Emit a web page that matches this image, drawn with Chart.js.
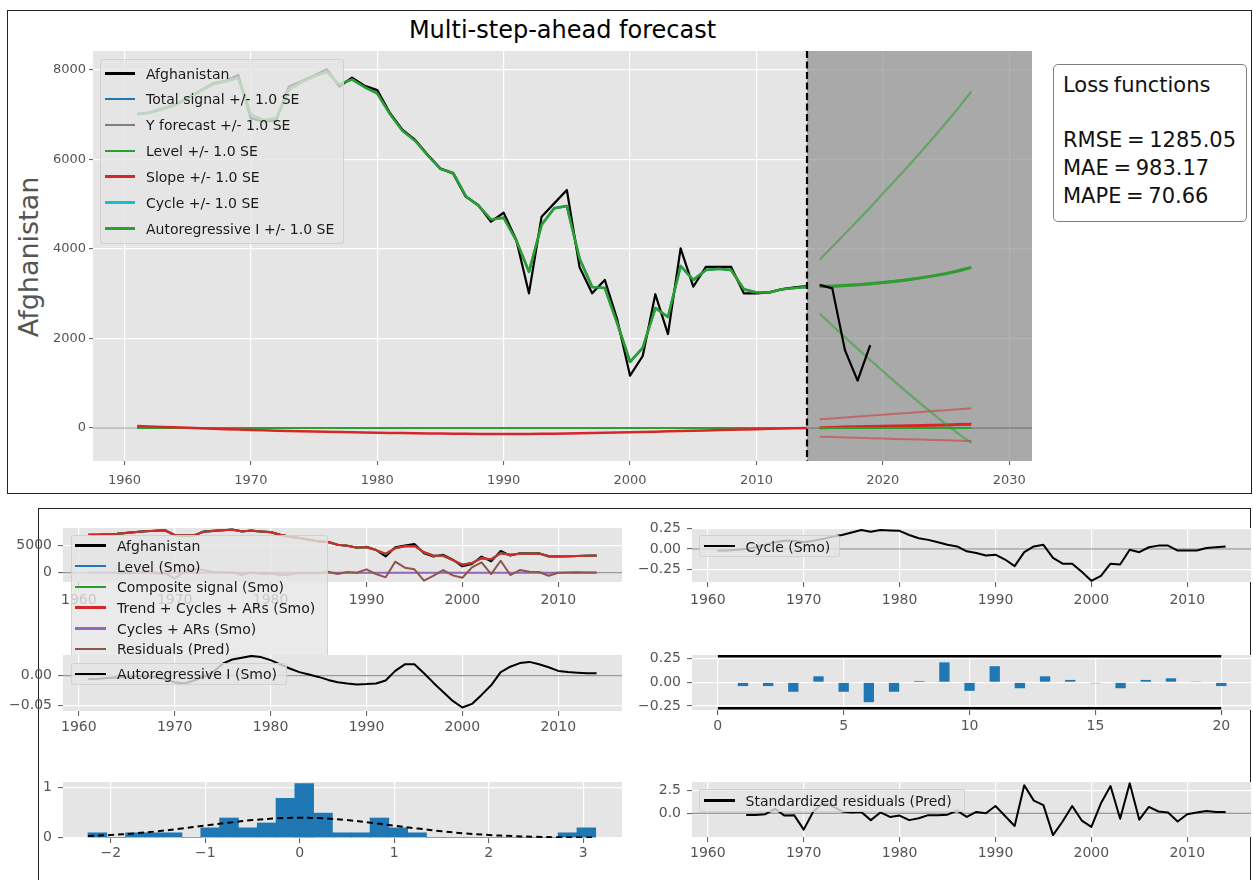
<!DOCTYPE html>
<html>
<head>
<meta charset="utf-8">
<title>Multi-step-ahead forecast</title>
<script src="https://cdn.jsdelivr.net/npm/chart.js@4.4.1/dist/chart.umd.min.js"></script>
<style>
  html, body { margin:0; padding:0; background:#fff; }
  body { position:relative; width:1253px; height:880px; overflow:hidden; font-family:"DejaVu Sans", sans-serif; }
  canvas { position:absolute; }
  .frame { position:absolute; border:1.5px solid #222; box-sizing:border-box; }
  .txt { position:absolute; white-space:nowrap; line-height:1; }
  .legend { position:absolute; box-sizing:border-box; background:rgba(229,229,229,0.8); border:1px solid rgba(204,204,204,0.8); border-radius:3px; overflow:hidden; }
  .legend .sw { position:absolute; height:2.5px; }
  .legend .lb { position:absolute; white-space:nowrap; line-height:1; font-size:14px; color:#1a1a1a; }
  #loss { position:absolute; left:1053px; top:64px; width:194px; height:158px; box-sizing:border-box; border:1px solid #808080; border-radius:5px; background:#fff; z-index:3; }
  #loss .txt { font-size:21px; color:#111; word-spacing:-2px; }
</style>
</head>
<body>
<div class="frame" style="left:7px;top:10px;width:1245px;height:484px;"></div>
<div class="frame" style="left:38px;top:508px;width:1213px;height:390px;"></div>
<div class="txt" style="left:0;width:1125px;text-align:center;top:18px;font-size:24px;color:#000;">Multi-step-ahead forecast</div>
<div class="txt" style="left:28px;top:257px;font-size:27px;color:#555;transform:translate(-50%,-50%) rotate(-90deg);">Afghanistan</div>
<div id="loss"></div>
<script>
// ---------------- series ----------------
const years = [1961,1962,1963,1964,1965,1966,1967,1968,1969,1970,1971,1972,1973,1974,1975,1976,1977,1978,1979,1980,
  1981,1982,1983,1984,1985,1986,1987,1988,1989,1990,1991,1992,1993,1994,1995,1996,1997,1998,1999,2000,
  2001,2002,2003,2004,2005,2006,2007,2008,2009,2010,2011,2012,2013,2014];
const afghanistan = [7017,7045,7130,7220,7380,7540,7700,7760,7890,6920,6850,6870,7630,7750,7880,8020,7630,7830,7650,7550,
  7040,6660,6440,6100,5800,5690,5170,4980,4610,4810,4200,3010,4720,5020,5320,3600,3010,3310,2410,1170,
  1610,2990,2100,4015,3160,3600,3600,3600,3010,3010,3030,3100,3145,3170];
const testYears = [2015,2016,2017,2018,2019];
const afghanistanTest = [3200,3120,1740,1060,1855];

// smoothed level / total signal
const fittedSmo = [7010,7050,7140,7220,7370,7530,7680,7750,7820,7000,6880,6920,7560,7730,7860,7960,7680,7790,7620,7480,
  7020,6640,6420,6090,5790,5700,5180,4970,4660,4700,4190,3490,4540,4910,4960,3790,3150,3130,2330,1480,
  1790,2680,2480,3620,3310,3530,3560,3530,3100,3030,3030,3100,3130,3150];
const slopeSmo = [45,35,25,15,5,-5,-15,-25,-35,-45,-52,-60,-67,-74,-80,-86,-91,-96,-101,-105,
  -109,-113,-117,-120,-123,-126,-129,-131,-133,-135,-134,-132,-130,-127,-123,-119,-114,-108,-102,-95,
  -88,-81,-74,-67,-60,-53,-46,-39,-32,-25,-18,-12,-6,0];
const cycleSmo = [-0.02,-0.02,-0.01,0.00,0.02,0.05,0.08,0.10,0.10,0.08,0.10,0.12,0.15,0.17,0.20,0.23,0.21,0.23,0.225,0.22,
  0.17,0.13,0.11,0.08,0.05,0.03,-0.03,-0.05,-0.08,-0.07,-0.13,-0.21,-0.04,0.03,0.05,-0.11,-0.18,-0.18,-0.28,-0.39,
  -0.33,-0.18,-0.19,-0.01,-0.04,0.02,0.04,0.04,-0.02,-0.02,-0.02,0.01,0.02,0.03];
const arSmo = [-0.0055,-0.005,-0.004,-0.003,-0.002,-0.001,0.000,-0.002,-0.006,-0.011,-0.013,-0.008,-0.002,0.006,0.020,0.027,0.030,0.033,0.031,0.026,
  0.019,0.012,0.006,0.002,-0.002,-0.007,-0.011,-0.013,-0.0145,-0.014,-0.013,-0.008,0.008,0.019,0.019,0.004,-0.012,-0.027,-0.042,-0.053,
  -0.047,-0.032,-0.016,0.006,0.015,0.021,0.023,0.019,0.014,0.008,0.006,0.005,0.004,0.004];
const cyclesArSmo = cycleSmo.map((c, i) => c + arSmo[i]);

// multi-step-ahead forecast
const splitYear = 2014;
const fcstYears = [2015,2016,2017,2018,2019,2020,2021,2022,2023,2024,2025,2026,2027];
const levelFcst  = [3160,3170,3185,3200,3225,3250,3280,3315,3355,3400,3450,3515,3590];
const levelUpper = [3760,4050,4340,4630,4930,5240,5540,5850,6170,6490,6820,7160,7520];
const levelLower = [2560,2290,2030,1770,1520,1270,1020,780,540,310,80,-130,-330];
const slopeFcst  = [7,13,20,26,32,39,45,51,58,64,70,77,83];
const slopeUpper = [195,215,236,256,277,297,318,338,358,379,399,420,440];
const slopeLower = [-195,-203,-211,-219,-227,-235,-243,-250,-258,-266,-274,-282,-290];
const cycleFcst  = [0.03,0.03,0.02,0.02,0.02,0.01,0.01,0.01,0.0,0.0,0.0,0.0,0.0];
const arFcst     = [0.004,0.003,0.003,0.002,0.002,0.001,0.001,0.001,0.0,0.0,0.0,0.0,0.0];

const lossMetrics = [['RMSE', '1285.05'], ['MAE', '983.17'], ['MAPE', '70.66']];

// residual diagnostics
const residYears = [1964,1965,1966,1967,1968,1969,1970,1971,1972,1973,1974,1975,1976,1977,1978,1979,1980,
  1981,1982,1983,1984,1985,1986,1987,1988,1989,1990,1991,1992,1993,1994,1995,1996,1997,1998,1999,2000,
  2001,2002,2003,2004,2005,2006,2007,2008,2009,2010,2011,2012,2013,2014];
const residualsPred = [-100,-100,-60,300,-150,-120,-1050,120,650,480,120,60,90,-450,60,-240,-150,
  -450,-330,-120,-120,-90,180,-250,120,0,620,-250,-860,2040,925,620,-1480,-555,490,-490,-925,
  990,1910,-250,2220,-430,490,185,120,-555,0,60,100,60,60];
const stdResiduals = [-0.18,-0.18,-0.1,0.5,-0.25,-0.2,-1.8,0.2,1.1,0.8,0.2,0.1,0.15,-0.75,0.1,-0.4,-0.25,
  -0.75,-0.55,-0.2,-0.2,-0.15,0.3,-0.4,0.15,0.0,0.8,-0.3,-1.4,3.1,1.4,0.9,-2.4,-0.9,0.8,-0.8,-1.5,
  1.1,3.0,-0.6,3.3,-0.7,0.7,0.2,0.1,-0.9,-0.1,0.1,0.25,0.15,0.15];
const acfLags = [1,2,3,4,5,6,7,8,9,10,11,12,13,14,15,16,17,18,19,20];
const acfValues = [-0.04,-0.04,-0.10,0.063,-0.10,-0.21,-0.10,0.014,0.21,-0.09,0.17,-0.063,0.063,0.025,-0.01,-0.063,0.025,0.042,0.004,-0.04];
const acfBandLags = [0, 20];
const acfBand = 0.274;
const histBinStart = -2.241, histBinWidth = 0.199;
const histDensity = [0.098,0,0.098,0.098,0.098,0,0.197,0.394,0.197,0.295,0.788,1.083,0.492,0.098,0.098,0.394,0.197,0.098,0,0,0,0,0,0,0,0.098,0.197];
const histCenters = histDensity.map((_, i) => histBinStart + histBinWidth * (i + 0.5));
const normX   = [-2.24,-2.0,-1.75,-1.5,-1.25,-1.0,-0.75,-0.5,-0.25,0,0.25,0.5,0.75,1.0,1.25,1.5,1.75,2.0,2.25,2.5,2.75,3.0,3.13];
const normPdf = [0.032,0.054,0.086,0.13,0.183,0.242,0.301,0.352,0.387,0.399,0.387,0.352,0.301,0.242,0.183,0.13,0.086,0.054,0.032,0.018,0.009,0.0044,0.003];

// ---------------- ticks ----------------
const topXTicks = [1960,1970,1980,1990,2000,2010,2020,2030];
const topXLabels = ['1960','1970','1980','1990','2000','2010','2020','2030'];
const topYTicks = [0,2000,4000,6000,8000];
const topYLabels = ['0','2000','4000','6000','8000'];
const yearTicks = [1960,1970,1980,1990,2000,2010];
const yearLabels = ['1960','1970','1980','1990','2000','2010'];
const compYTicks = [0,5000];
const compYLabels = ['0','5000'];
const cycleYTicks = [-0.25,0,0.25];
const cycleYLabels = ['\u22120.25','0.00','0.25'];
const arYTicks = [-0.05,0];
const arYLabels = ['\u22120.05','0.00'];
const acfXTicks = [0,5,10,15,20];
const acfXLabels = ['0','5','10','15','20'];
const acfYTicks = [-0.25,0,0.25];
const acfYLabels = ['\u22120.25','0.00','0.25'];
const histXTicks = [-2,-1,0,1,2,3];
const histXLabels = ['\u22122','\u22121','0','1','2','3'];
const histYTicks = [0,1];
const histYLabels = ['0','1'];
const stdYTicks = [0,2.5];
const stdYLabels = ['0.0','2.5'];

// ---------------- helpers ----------------
Chart.defaults.font.family = 'DejaVu Sans';
const C = { black:'#000000', blue:'#1f77b4', gray:'#7f7f7f', green:'#2ca02c', red:'#d62728', cyan:'#17becf', purple:'#9467bd', brown:'#8c564b' };

const pts = (xs, ys) => xs.map((x, i) => ({ x, y: ys[i] }));
function line(label, xs, ys, color, width, extra) {
  return Object.assign({ type:'line', label, data: pts(xs, ys), borderColor: color, backgroundColor: color,
    borderWidth: width, pointRadius: 0, tension: 0, fill: false, borderJoinStyle: 'round', borderCapStyle: 'butt' }, extra || {});
}

const plotBg = { id:'plotBg', beforeDraw(c) {
  const a = c.chartArea, ctx = c.ctx; ctx.save(); ctx.fillStyle = '#e5e5e5';
  ctx.fillRect(a.left, a.top, a.right - a.left, a.bottom - a.top); ctx.restore(); } };
const zeroRule = { id:'zeroRule', beforeDatasetsDraw(c) {
  const a = c.chartArea, y = c.scales.y.getPixelForValue(0), ctx = c.ctx;
  ctx.save(); ctx.strokeStyle = 'rgba(0,0,0,0.4)'; ctx.lineWidth = 1.2;
  ctx.beginPath(); ctx.moveTo(a.left, y); ctx.lineTo(a.right, y); ctx.stroke(); ctx.restore(); } };
const forecastShade = { id:'forecastShade', beforeDatasetsDraw(c) {
  const a = c.chartArea, x0 = c.scales.x.getPixelForValue(splitYear), ctx = c.ctx;
  ctx.save(); ctx.fillStyle = 'rgba(128,128,128,0.6)'; ctx.fillRect(x0, a.top, a.right - x0, a.bottom - a.top); ctx.restore(); } };
const splitLine = { id:'splitLine', afterDatasetsDraw(c) {
  const a = c.chartArea, x0 = c.scales.x.getPixelForValue(splitYear), ctx = c.ctx;
  ctx.save(); ctx.strokeStyle = '#000'; ctx.lineWidth = 2.2; ctx.setLineDash([7, 3.5]);
  ctx.beginPath(); ctx.moveTo(x0, a.top); ctx.lineTo(x0, a.bottom); ctx.stroke(); ctx.restore(); } };

function axis(dir, min, max, ticks, labels, o) {
  return {
    type: 'linear', position: dir === 'x' ? 'bottom' : 'left', min, max, offset: false,
    afterBuildTicks: s => { s.ticks = ticks.map(v => ({ value: v })); },
    afterFit: s => {
      if (dir === 'x') { s.height = o.space; s.paddingLeft = 0; s.paddingRight = 0; }
      else { s.width = o.space; s.paddingTop = 0; s.paddingBottom = 0; }
    },
    ticks: { autoSkip: false, maxRotation: 0, minRotation: 0, padding: o.pad, color: '#555555',
      font: { size: o.size }, callback: v => labels[ticks.indexOf(v)] },
    grid: { color: '#ffffff', lineWidth: 1.2, tickColor: '#555555', tickLength: o.tick, tickWidth: 1, offset: false },
    border: { display: false }
  };
}

function panel(p) {
  const padT = 10, padR = 6;
  const cv = document.createElement('canvas');
  cv.width = p.area.w + p.axisW + padR; cv.height = p.area.h + p.axisH + padT;
  Object.assign(cv.style, { left: (p.area.l - p.axisW) + 'px', top: (p.area.t - padT) + 'px',
    width: cv.width + 'px', height: cv.height + 'px', zIndex: p.z || 1 });
  document.body.appendChild(cv);
  return new Chart(cv, {
    type: p.type || 'line',
    data: { datasets: p.datasets.slice().reverse() },   // first dataset is painted last
    options: { responsive: false, maintainAspectRatio: false, animation: false, events: [], devicePixelRatio: 1,
      layout: { padding: { left: 0, top: padT, right: padR, bottom: 0 } },
      plugins: { legend: { display: false }, tooltip: { enabled: false } },
      scales: { x: p.x, y: p.y } },
    plugins: [plotBg].concat(p.plugins || [])
  });
}

function legend(box, items, o) {
  const d = document.createElement('div'); d.className = 'legend';
  Object.assign(d.style, { left: box.l + 'px', top: box.t + 'px', width: box.w + 'px', height: box.h + 'px', zIndex: o.z || 2 });
  items.forEach((it, i) => {
    const cy = o.row0 + i * o.step;
    const sw = document.createElement('div'); sw.className = 'sw';
    Object.assign(sw.style, { left: o.swX + 'px', width: o.swW + 'px', top: (cy - 1.25) + 'px', background: it.color });
    const lb = document.createElement('div'); lb.className = 'lb'; lb.textContent = it.label;
    Object.assign(lb.style, { left: o.txX + 'px', top: (cy - 6.7) + 'px' });
    d.appendChild(sw); d.appendChild(lb);
  });
  document.body.appendChild(d);
}

// ---------------- top: forecast panel ----------------
const fadeGreen = 'rgba(44,160,44,0.55)', fadeRed = 'rgba(214,39,40,0.5)';
panel({
  area: { l: 93, t: 51, w: 939, h: 410 }, axisW: 60, axisH: 34, z: 1,
  x: axis('x', 1957.51, 2031.8, topXTicks, topXLabels, { space: 34, pad: 8, size: 13, tick: 4 }),
  y: axis('y', -737, 8425, topYTicks, topYLabels, { space: 60, pad: 3, size: 13, tick: 4 }),
  plugins: [forecastShade, zeroRule, splitLine],
  datasets: [
    line('Cycle +/- 1.0 SE', years, cycleSmo, C.cyan, 2),
    line('Autoregressive I +/- 1.0 SE', years, arSmo, C.green, 2),
    line('Slope +/- 1.0 SE', years, slopeSmo, C.red, 2.5),
    line('Total signal +/- 1.0 SE', years, fittedSmo, C.blue, 2.5),
    line('Afghanistan', years, afghanistan, C.black, 2.2),
    line('Level +/- 1.0 SE', years, fittedSmo, C.green, 2.5),
    line('Slope upper', fcstYears, slopeUpper, fadeRed, 2),
    line('Slope lower', fcstYears, slopeLower, fadeRed, 2),
    line('Slope forecast', fcstYears, slopeFcst, C.red, 3),
    line('Cycle forecast', fcstYears, cycleFcst, C.cyan, 2),
    line('AR forecast', fcstYears, arFcst, C.green, 2),
    line('Level upper', fcstYears, levelUpper, fadeGreen, 2.2),
    line('Level lower', fcstYears, levelLower, fadeGreen, 2.2),
    line('Y forecast +/- 1.0 SE', fcstYears, levelFcst, C.gray, 3),
    line('Level forecast', fcstYears, levelFcst, C.green, 3),
    line('Afghanistan (test)', testYears, afghanistanTest, C.black, 2.2)
  ]
});
legend({ l: 100, t: 59, w: 244, h: 185 }, [
  { label: 'Afghanistan', color: C.black },
  { label: 'Total signal +/- 1.0 SE', color: C.blue },
  { label: 'Y forecast +/- 1.0 SE', color: C.gray },
  { label: 'Level +/- 1.0 SE', color: C.green },
  { label: 'Slope +/- 1.0 SE', color: C.red },
  { label: 'Cycle +/- 1.0 SE', color: C.cyan },
  { label: 'Autoregressive I +/- 1.0 SE', color: C.green }
], { row0: 13.3, step: 25.83, swX: 4, swW: 30, txX: 45, z: 2 });

// loss-function box
(function () {
  const box = document.getElementById('loss');
  const add = (text, top) => { const s = document.createElement('div'); s.className = 'txt'; s.textContent = text;
    s.style.left = '9px'; s.style.top = top + 'px'; box.appendChild(s); };
  add('Loss functions', 10);
  lossMetrics.forEach((m, i) => add(m[0] + ' = ' + m[1], 64.5 + i * 28.4));
})();

// ---------------- bottom: components and diagnostics ----------------
const bx = { space: 30, pad: 3, size: 14, tick: 5 };
const byl = { space: 60, pad: 6, size: 14, tick: 5 };

// components
panel({
  area: { l: 63, t: 528, w: 559, h: 54 }, axisW: 60, axisH: 30, z: 1,
  x: axis('x', 1958.35, 2016.65, yearTicks, yearLabels, Object.assign({}, bx, { pad: 5 })),
  y: axis('y', -1722, 8278, compYTicks, compYLabels, byl),
  plugins: [zeroRule],
  datasets: [
    line('Afghanistan', years, afghanistan, C.black, 2),
    line('Level (Smo)', years, fittedSmo, C.blue, 2),
    line('Composite signal (Smo)', years, fittedSmo, C.green, 2),
    line('Trend + Cycles + ARs (Smo)', years, fittedSmo, C.red, 2),
    line('Cycles + ARs (Smo)', years, cyclesArSmo, C.purple, 2),
    line('Residuals (Pred)', residYears, residualsPred, C.brown, 2)
  ]
});
legend({ l: 71, t: 535, w: 257, h: 128 }, [
  { label: 'Afghanistan', color: C.black },
  { label: 'Level (Smo)', color: C.blue },
  { label: 'Composite signal (Smo)', color: C.green },
  { label: 'Trend + Cycles + ARs (Smo)', color: C.red },
  { label: 'Cycles + ARs (Smo)', color: C.purple },
  { label: 'Residuals (Pred)', color: C.brown }
], { row0: 9.5, step: 20.7, swX: 3, swW: 31, txX: 45, z: 2 });

// cycle
panel({
  area: { l: 692, t: 528, w: 559, h: 54 }, axisW: 60, axisH: 30, z: 1,
  x: axis('x', 1958.35, 2016.65, yearTicks, yearLabels, Object.assign({}, bx, { pad: 5 })),
  y: axis('y', -0.404, 0.255, cycleYTicks, cycleYLabels, byl),
  plugins: [zeroRule],
  datasets: [ line('Cycle (Smo)', years, cycleSmo, C.black, 2) ]
});
legend({ l: 699, t: 535, w: 141, h: 22 }, [ { label: 'Cycle (Smo)', color: C.black } ],
  { row0: 10.2, step: 0, swX: 4, swW: 31, txX: 45.5, z: 2 });

// autoregressive
panel({
  area: { l: 63, t: 655, w: 559, h: 56 }, axisW: 60, axisH: 30, z: 3,
  x: axis('x', 1958.35, 2016.65, yearTicks, yearLabels, bx),
  y: axis('y', -0.0588, 0.0345, arYTicks, arYLabels, byl),
  plugins: [zeroRule],
  datasets: [ line('Autoregressive I (Smo)', years, arSmo, C.black, 2) ]
});
legend({ l: 71, t: 663, w: 216, h: 22 }, [ { label: 'Autoregressive I (Smo)', color: C.black } ],
  { row0: 10, step: 0, swX: 3, swW: 31, txX: 45, z: 4 });

// autocorrelation of residuals
panel({
  type: 'bar',
  area: { l: 692, t: 655, w: 559, h: 55 }, axisW: 60, axisH: 30, z: 1,
  x: axis('x', -1.025, 21.18, acfXTicks, acfXLabels, bx),
  y: axis('y', -0.2925, 0.288, acfYTicks, acfYLabels, byl),
  datasets: [
    { type: 'bar', label: 'ACF', data: pts(acfLags, acfValues), backgroundColor: C.blue, borderWidth: 0,
      categoryPercentage: 1, barPercentage: 0.41 },
    line('upper band', acfBandLags, [acfBand, acfBand], C.black, 2.5),
    line('lower band', acfBandLags, [-acfBand, -acfBand], C.black, 2.5)
  ]
});

// histogram of standardized residuals
panel({
  type: 'bar',
  area: { l: 63, t: 782, w: 559, h: 56 }, axisW: 60, axisH: 30, z: 1,
  x: axis('x', -2.505, 3.41, histXTicks, histXLabels, Object.assign({}, bx, { pad: 1.5 })),
  y: axis('y', -0.006, 1.114, histYTicks, histYLabels, byl),
  datasets: [
    { type: 'bar', label: 'density', data: pts(histCenters, histDensity), backgroundColor: C.blue, borderWidth: 0,
      categoryPercentage: 1, barPercentage: 1 },
    line('N(0,1)', normX, normPdf, C.black, 2, { borderDash: [6, 4], tension: 0.35 })
  ]
});

// standardized residuals
panel({
  area: { l: 692, t: 782, w: 559, h: 55 }, axisW: 60, axisH: 30, z: 1,
  x: axis('x', 1958.35, 2016.65, yearTicks, yearLabels, bx),
  y: axis('y', -2.61, 3.45, stdYTicks, stdYLabels, byl),
  plugins: [zeroRule],
  datasets: [ line('Standardized residuals (Pred)', residYears, stdResiduals, C.black, 2) ]
});
legend({ l: 699, t: 789, w: 266, h: 23 }, [ { label: 'Standardized residuals (Pred)', color: C.black } ],
  { row0: 10.5, step: 0, swX: 4, swW: 31, txX: 45.5, z: 2 });
</script>
</body>
</html>
